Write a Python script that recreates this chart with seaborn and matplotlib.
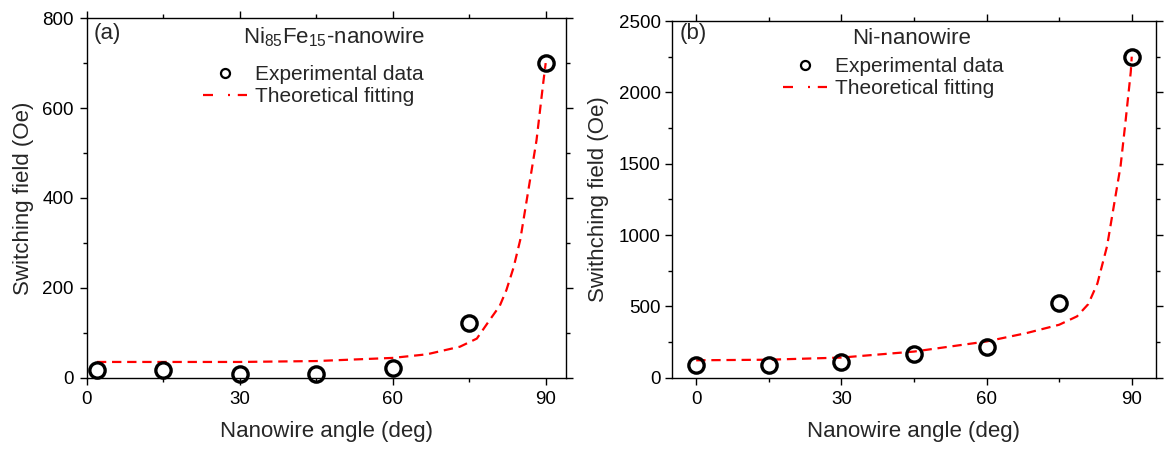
import numpy as np
import pandas as pd
import matplotlib
matplotlib.use('Agg')
import matplotlib.pyplot as plt
from matplotlib.lines import Line2D
from matplotlib.ticker import MultipleLocator
import seaborn as sns

# (a) Ni85Fe15 nanowire
angle_a = [2, 15, 30, 45, 60, 75, 90]
field_a = [17, 17, 8, 8, 22, 121, 700]
fit_angle_a = [2, 15, 30, 45, 60, 66.7, 73.2, 76.5, 79, 81, 82.3, 83.7, 85, 86.6, 88.2, 89.5, 90]
fit_field_a = [35, 35, 35, 37, 44, 52, 69, 87, 128, 160, 195, 245, 306, 417, 528, 654, 700]

# (b) Ni nanowire
angle_b = [0, 15, 30, 45, 60, 75, 90]
field_b = [89, 89, 113, 167, 218, 524, 2250]
fit_angle_b = [0, 15, 30, 45, 60, 68.3, 75, 78.7, 81, 82.9, 84.9, 86.3, 87.7, 88.7, 89.8, 90]
fit_field_b = [122, 126, 141, 183, 254, 313, 371, 430, 515, 660, 922, 1204, 1486, 1791, 2144, 2250]

sns.set_theme(style='ticks')
plt.rcParams['font.family'] = ['Liberation Sans', 'DejaVu Sans']
plt.rcParams['mathtext.default'] = 'regular'
plt.rcParams['axes.linewidth'] = 1.0

fig = plt.figure(figsize=(11.72, 4.5), dpi=100)
ax1 = fig.add_axes([0.074, 0.1607, 0.409, 0.799])
ax2 = fig.add_axes([0.5734, 0.1607, 0.4129, 0.7926])

panels = [
    (ax1, angle_a, field_a, fit_angle_a, fit_field_a, '(a)', 'Ni$_{85}$Fe$_{15}$-nanowire',
     'Switching field (Oe)', (0, 94), (0, 800), 200, 100,
     (0.015, 0.958), (0.516, 0.948), (0.2433, 0.869)),
    (ax2, angle_b, field_b, fit_angle_b, fit_field_b, '(b)', 'Ni-nanowire',
     'Swithching field (Oe)', (-5, 95), (0, 2500), 500, 250,
     (0.0165, 0.966), (0.495, 0.952), (0.23, 0.8985)),
]

for ax, xa, ya, fx, fy, tag, title, ylab, xl, yl, ymaj, ymin, tagpos, tpos, lpos in panels:
    fit = pd.DataFrame({'angle': fx, 'field': fy})
    pts = pd.DataFrame({'angle': xa, 'field': ya})
    sns.lineplot(data=fit, x='angle', y='field', ax=ax, color='#ff0000', lw=1.6,
                 linestyle=(0, (4.2, 2.6)), sort=False, clip_on=False, zorder=2)
    ax.plot(pts['angle'], pts['field'], 'o', mfc='none', mec='black', mew=2.4, ms=11,
            clip_on=False, zorder=3)
    ax.set_xlim(*xl)
    ax.set_ylim(*yl)
    ax.xaxis.set_major_locator(MultipleLocator(30))
    ax.xaxis.set_minor_locator(MultipleLocator(15))
    ax.yaxis.set_major_locator(MultipleLocator(ymaj))
    ax.yaxis.set_minor_locator(MultipleLocator(ymin))
    ax.tick_params(which='both', direction='out', top=True, right=True, width=1.0,
                   labelsize=13.5, colors='black')
    ax.tick_params(axis='x', pad=4.5)
    ax.tick_params(axis='y', pad=4 if ax is ax1 else 3)
    ax.tick_params(which='major', length=5.2)
    ax.tick_params(which='minor', length=3)
    ax.set_xlabel('Nanowire angle (deg)', fontsize=16, labelpad=9.5)
    ax.set_ylabel(ylab, fontsize=16, labelpad=7 if ax is ax2 else 6)
    for s in ax.spines.values():
        s.set_visible(True)
        s.set_color('black')
    ax.text(*tagpos, tag, transform=ax.transAxes, fontsize=16, va='center', ha='left')
    ax.text(*tpos, title, transform=ax.transAxes, fontsize=16, va='center', ha='center')
    handles = [
        Line2D([], [], marker='o', ls='none', mfc='none', mec='black', mew=1.6, ms=6.5),
        Line2D([], [], color='#ff0000', lw=1.6, linestyle=(0, (4.5, 6.75, 0.9, 3.5))),
    ]
    ax.legend(handles, ['Experimental data', 'Theoretical fitting'], frameon=False,
              fontsize=15, loc='upper left', bbox_to_anchor=lpos,
              borderpad=0, borderaxespad=0, handlelength=2.08, handletextpad=0.4,
              labelspacing=0.15)
    ax.set_facecolor('white')

fig.savefig('out.png', dpi=100, facecolor='white')
